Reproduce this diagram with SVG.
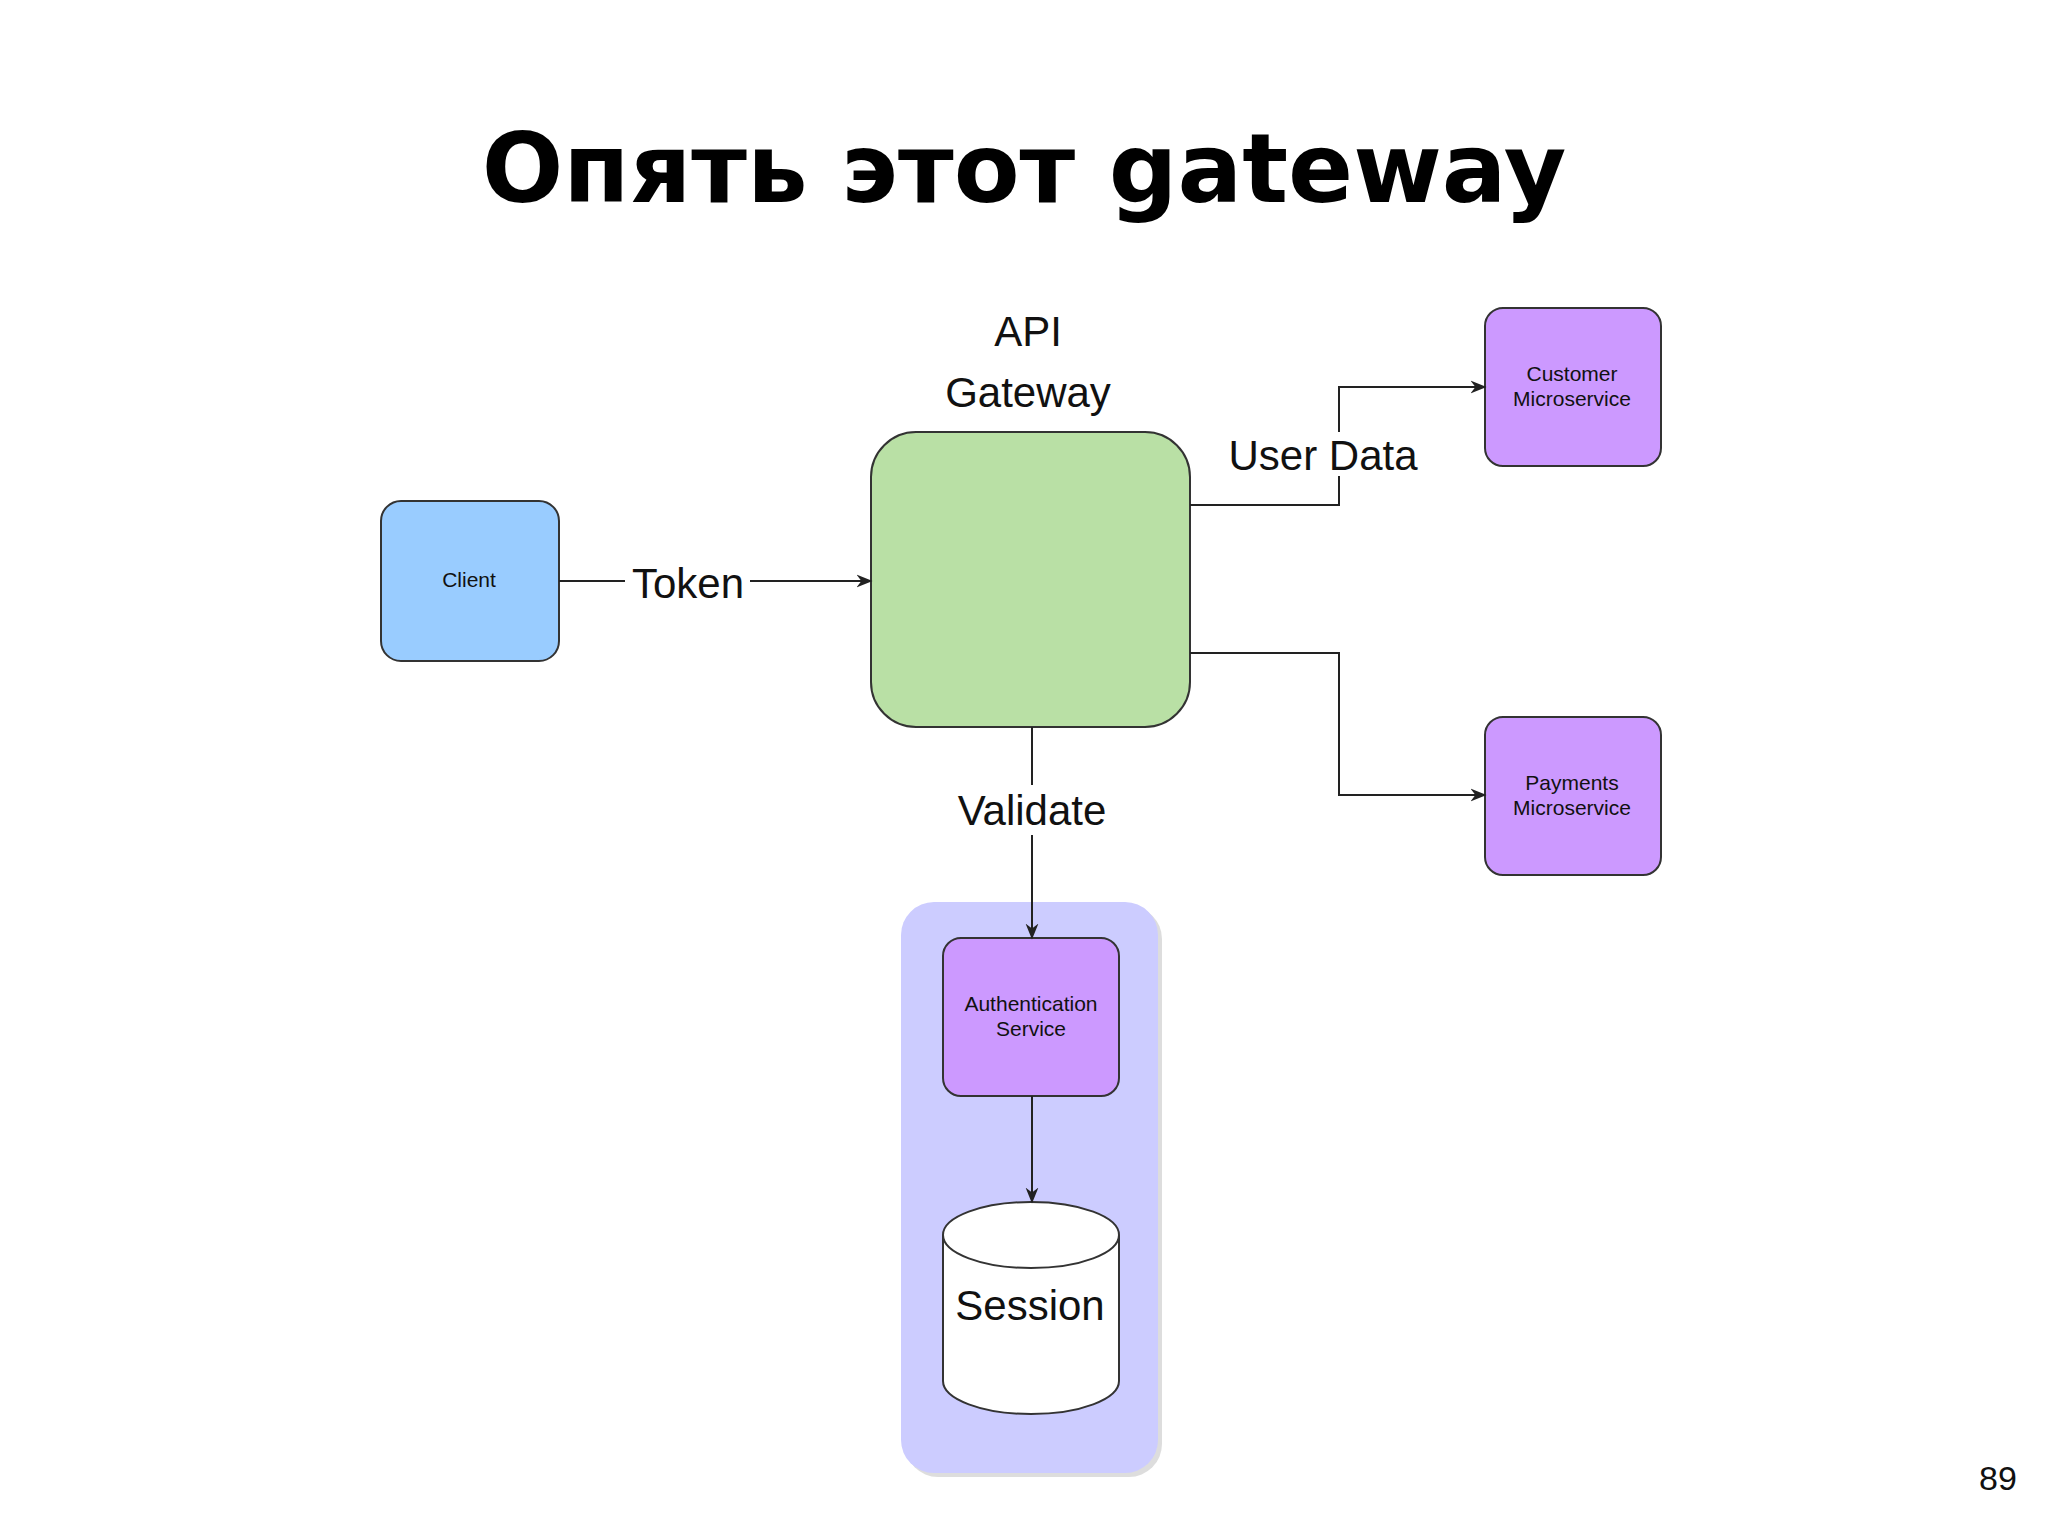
<svg xmlns="http://www.w3.org/2000/svg" width="2048" height="1536" viewBox="0 0 2048 1536">
<style>
.n{stroke:#333;stroke-width:2}
.s{font-family:"Liberation Sans",Arial,sans-serif;font-size:21px;text-anchor:middle;fill:#111}
.b{font-family:"Liberation Sans",Arial,sans-serif;font-size:42px;text-anchor:middle;fill:#111}
.e{fill:none;stroke:#222;stroke-width:2}
</style>
<defs>
<marker id="a" viewBox="0 0 10 10" refX="9" refY="5" markerWidth="8" markerHeight="8" orient="auto"><path d="M0,1 L10,5 L0,9 L3,5 z" fill="#222"/></marker>
</defs>
<rect width="2048" height="1536" fill="#fff"/>
<text x="1024" y="202" font-family="DejaVu Sans,sans-serif" font-weight="bold" font-size="96" text-anchor="middle" fill="#000">Опять этот gateway</text>
<g id="container"><rect x="905" y="906" width="257" height="571" rx="33" fill="#bbb" opacity="0.5"/><rect x="901" y="902" width="257" height="571" rx="33" fill="#ccccff"/></g>
<g id="client"><rect class="n" x="381" y="501" width="178" height="160" rx="20" fill="#99ccff"/><text class="s" x="469" y="587">Client</text></g>
<g id="gateway"><rect class="n" x="871" y="432" width="319" height="295" rx="45" fill="#b9e0a5"/><text class="b" x="1028" y="346" font-size="50">API</text><text class="b" x="1028" y="407" font-size="50">Gateway</text></g>
<g id="customer"><rect class="n" x="1485" y="308" width="176" height="158" rx="18" fill="#cc99ff"/><text class="s" x="1572" y="381">Customer</text><text class="s" x="1572" y="406">Microservice</text></g>
<g id="payments"><rect class="n" x="1485" y="717" width="176" height="158" rx="18" fill="#cc99ff"/><text class="s" x="1572" y="790">Payments</text><text class="s" x="1572" y="815">Microservice</text></g>
<g id="auth"><rect class="n" x="943" y="938" width="176" height="158" rx="18" fill="#cc99ff"/><text class="s" x="1031" y="1011">Authentication</text><text class="s" x="1031" y="1036">Service</text></g>
<g id="session"><path class="n" d="M943,1235 A88,33 0 0 1 1119,1235 L1119,1381 A88,33 0 0 1 943,1381 Z" fill="#fff"/><path class="n" d="M943,1235 A88,33 0 0 0 1119,1235" fill="none"/><text class="b" x="1030" y="1320">Session</text></g>
<g id="connectors">
<path class="e" d="M559,581 H871" marker-end="url(#a)"/>
<rect x="625" y="560" width="125" height="44" fill="#fff"/><text class="b" x="688" y="598">Token</text>
<path class="e" d="M1190,505 H1339 V387 H1485" marker-end="url(#a)"/>
<rect x="1225" y="432" width="200" height="44" fill="#fff"/><text class="b" x="1323" y="470">User Data</text>
<path class="e" d="M1190,653 H1339 V795 H1485" marker-end="url(#a)"/>
<path class="e" d="M1032,727 V938" marker-end="url(#a)"/>
<rect x="952" y="785" width="160" height="50" fill="#fff"/><text class="b" x="1032" y="825">Validate</text>
<path class="e" d="M1032,1096 V1202" marker-end="url(#a)"/>
</g>
<text x="1998" y="1490" font-family="Liberation Sans,Arial,sans-serif" font-size="34" text-anchor="middle" fill="#111">89</text>
</svg>
